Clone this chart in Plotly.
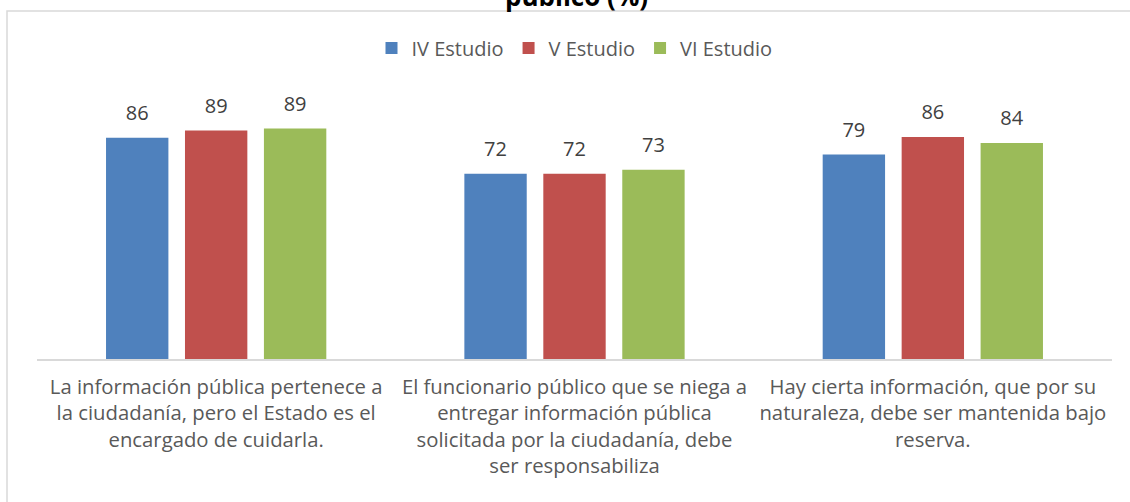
import plotly.graph_objects as go

categories = [
    "La información pública pertenece a<br>la ciudadanía, pero el Estado es el<br>encargado de cuidarla.",
    "El funcionario público que se niega a<br>entregar información pública<br>solicitada por la ciudadanía, debe<br>ser responsabiliza",
    "Hay cierta información, que por su<br>naturaleza, debe ser mantenida bajo<br>reserva.",
]
series_names = ["IV Estudio", "V Estudio", "VI Estudio"]
iv_values = [85.8, 71.8, 79.3]
v_values = [88.6, 71.8, 86.0]
vi_values = [89.3, 73.4, 83.7]
colors = ["#4f81bd", "#c0504d", "#9bbb59"]
title_text = "público (%)"

W, H = 1130, 502
ML, MR, MT, MB = 37, 18, 101, 143
PW, PH = W - ML - MR, H - MT - MB
FONT = "Open Sans"


def px_x(p):
    return (p - ML) / PW


def px_y(p):
    return 1 + (MT - p) / PH


fig = go.Figure()
for i, (name, vals, col) in enumerate(zip(series_names, [iv_values, v_values, vi_values], colors)):
    fig.add_trace(go.Bar(
        name=name, x=categories, y=vals,
        marker=dict(color=col, line=dict(width=0)),
        offsetgroup=str(i),
    ))
for i, (name, vals) in enumerate(zip(series_names, [iv_values, v_values, vi_values])):
    fig.add_trace(go.Scatter(
        name=name, x=categories, y=vals, mode="markers+text",
        marker=dict(size=19, color="rgba(0,0,0,0)"),
        texttemplate="%{y:.0f}", textposition="top center",
        textfont=dict(family=FONT, size=20, color="#404040"),
        offsetgroup=str(i), showlegend=False, cliponaxis=False, hoverinfo="skip",
    ))

fig.update_layout(
    width=W, height=H,
    margin=dict(l=ML, r=MR, t=MT, b=MB),
    paper_bgcolor="white", plot_bgcolor="white",
    font=dict(family=FONT, color="#595959"),
    barmode="group", bargap=0.339, bargroupgap=0.21,
    scattermode="group", scattergap=0.339,
    showlegend=True,
    legend=dict(orientation="h", x=0.5, xanchor="center", y=px_y(48), yanchor="middle",
                font=dict(family=FONT, size=20, color="#595959"), itemclick=False),
    xaxis=dict(showline=True, linecolor="#d9d9d9", linewidth=1.5, ticks="",
               tickfont=dict(family=FONT, size=20.3, color="#595959"), showgrid=False,
               ticklabelstandoff=9),
    yaxis=dict(visible=False, range=[0, 100]),
    shapes=[dict(type="rect", xref="paper", yref="paper",
                 x0=px_x(7), x1=px_x(1200), y0=px_y(600), y1=px_y(11),
                 line=dict(color="#d9d9d9", width=1.5), fillcolor="rgba(0,0,0,0)", layer="below")],
    annotations=[dict(text="<b>" + title_text + "</b>", xref="paper", yref="paper",
                      x=px_x(576), y=px_y(16), xanchor="center", yanchor="bottom",
                      showarrow=False, font=dict(family=FONT, size=26, color="#000000"))],
)

fig.write_html("out.html", config={"displayModeBar": False},
               post_script="document.body.style.margin='0';document.body.style.overflow='hidden';")
